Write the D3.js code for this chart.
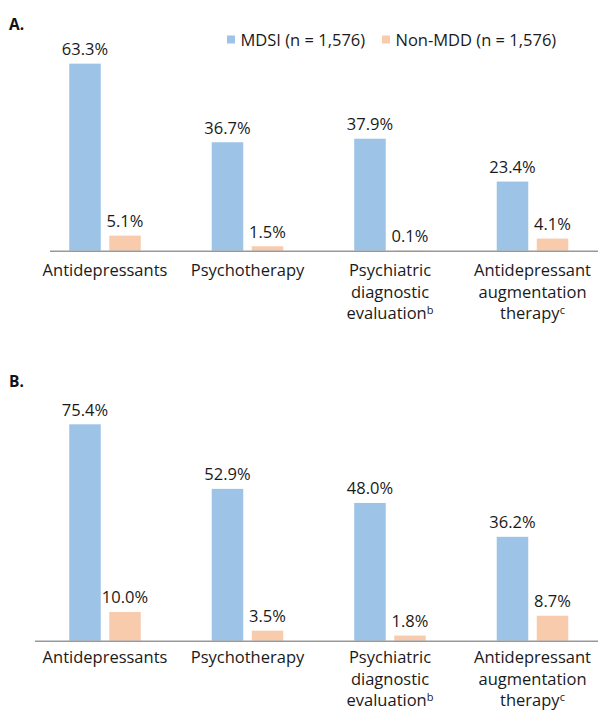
<!DOCTYPE html>
<html>
<head>
<meta charset="utf-8">
<script src="https://cdn.jsdelivr.net/npm/d3@7"></script>
<style>
html,body{margin:0;padding:0;background:#fff;}
svg{display:block;font-family:"Open Sans",sans-serif;}
</style>
</head>
<body>
<svg id="chart" width="598" height="713"></svg>
<script>
// ---- data ----
const categories = [
  ["Antidepressants"],
  ["Psychotherapy"],
  ["Psychiatric", "diagnostic", "evaluation|b"],
  ["Antidepressant", "augmentation", "therapy|c"]
];
const seriesNames = ["MDSI (n = 1,576)", "Non-MDD (n = 1,576)"];
const seriesColors = ["#9dc3e6", "#f8cbad"];
const panelTitles = ["A.", "B."];
const panelA_MDSI = [63.3, 36.7, 37.9, 23.4];
const panelA_NonMDD = [5.1, 1.5, 0.1, 4.1];
const panelB_MDSI = [75.4, 52.9, 48.0, 36.2];
const panelB_NonMDD = [10.0, 3.5, 1.8, 8.7];

const panels = [
  {title: panelTitles[0], values: [panelA_MDSI, panelA_NonMDD], base: 250.7, pxPer: 2.955, titleY: 30, axisX0: 50, labelY: 276},
  {title: panelTitles[1], values: [panelB_MDSI, panelB_NonMDD], base: 640.7, pxPer: 2.87, titleY: 387, axisX0: 35, labelY: 663}
];

const svg = d3.select("#chart");
const FS = 16.5;
const idx = d3.range(categories.length);

const x0 = d3.scaleBand().domain(idx).range([33.75, 603.75]).paddingInner(0.498).paddingOuter(0.249);
const x1 = d3.scaleBand().domain([0, 1]).range([0, x0.bandwidth()]).paddingInner(0.2125).paddingOuter(0);

panels.forEach(p => {
  const g = svg.append("g");
  const y = d3.scaleLinear().domain([0, 100]).range([p.base, p.base - 100 * p.pxPer]);

  g.append("text").attr("x", 9).attr("y", p.titleY)
    .attr("font-weight", "bold").attr("font-size", 15.5).attr("fill", "#111").text(p.title);

  p.values.forEach((vals, s) => {
    g.selectAll(null).data(vals).enter().append("rect")
      .attr("x", (d, i) => x0(i) + x1(s))
      .attr("y", d => y(d))
      .attr("width", x1.bandwidth())
      .attr("height", d => y(0) - y(d))
      .attr("fill", seriesColors[s]);
    g.selectAll(null).data(vals).enter().append("text")
      .attr("x", (d, i) => x0(i) + x1(s) + x1.bandwidth() / 2)
      .attr("y", d => y(d) - 8.7)
      .attr("text-anchor", "middle")
      .attr("font-size", FS).attr("fill", "#1a1a1a")
      .text(d => d.toFixed(1) + "%");
  });

  g.append("line").attr("x1", p.axisX0).attr("x2", 598)
    .attr("y1", y(0) + 0.5).attr("y2", y(0) + 0.5)
    .attr("stroke", "#999").attr("stroke-width", 1.6);

  categories.forEach((lines, i) => {
    const t = g.append("text")
      .attr("x", x0(i) + x0.bandwidth() / 2)
      .attr("y", p.labelY)
      .attr("text-anchor", "middle").attr("font-size", FS).attr("fill", "#1a1a1a");
    lines.forEach((ln, k) => {
      const parts = ln.split("|");
      const ts = t.append("tspan").attr("x", x0(i) + x0.bandwidth() / 2).attr("dy", k === 0 ? 0 : 21.7);
      ts.append("tspan").text(parts[0]);
      if (parts[1]) {
        ts.append("tspan").attr("font-size", 11).attr("dy", -5).text(parts[1]);
      }
    });
  });
});

// legend
const legend = svg.append("g");
const legX = [227, 382];
seriesNames.forEach((n, s) => {
  legend.append("rect").attr("x", legX[s]).attr("y", 35.5).attr("width", 8).attr("height", 8).attr("fill", seriesColors[s]);
  legend.append("text").attr("x", legX[s] + 13.5).attr("y", 45.5).attr("font-size", FS).attr("fill", "#1a1a1a").text(n);
});
</script>
</body>
</html>
